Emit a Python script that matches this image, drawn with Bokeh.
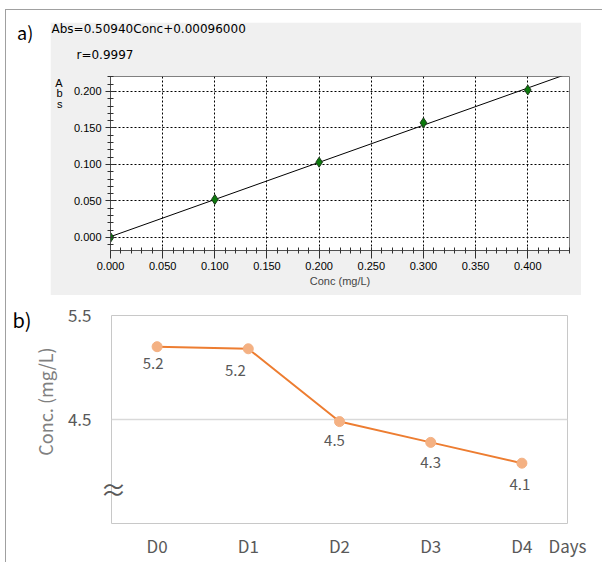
from bokeh.plotting import figure
from bokeh.layouts import column, row
from bokeh.models import (Range1d, SingleIntervalTicker, FixedTicker, LinearAxis, Title,
                          PrintfTickFormatter, Div, Spacer, ColumnDataSource)
from bokeh.core.properties import value
from bokeh.embed import file_html
from bokeh.resources import INLINE

# ---------------- data: panel a (calibration) ----------------
conc_std = [0.0, 0.1, 0.2, 0.3, 0.4]
abs_std = [0.000, 0.052, 0.103, 0.157, 0.202]
slope = 0.50940
intercept = 0.00096
fit_conc = [0.0, 0.44]
eq_text = "Abs=0.50940Conc+0.00096000"
r_text = "r=0.9997"
abs_letters = ["A", "b", "s"]

# ---------------- data: panel b (days) ----------------
days = ["D0", "D1", "D2", "D3", "D4"]
conc_days = [5.20, 5.18, 4.48, 4.28, 4.08]
b_ticks = [4.5, 5.5]
days_label = "Days"
b_ylabel = "Conc. (mg/L)"

# ---------------- panel a ----------------
FA = "DejaVu Sans"
FT = "Liberation Sans"
YA0, YA1 = -0.018, 0.2205
pa = figure(width=531, height=273, x_range=Range1d(0, 0.44), y_range=Range1d(YA0, YA1),
            output_backend="svg", toolbar_location=None,
            min_border_left=60, min_border_right=12, min_border_top=53, min_border_bottom=45,
            border_fill_color="#F0F0F0", background_fill_color="white",
            outline_line_color="#808080", outline_line_width=1)

for ax in (pa.xaxis[0], pa.yaxis[0]):
    ax.ticker = SingleIntervalTicker(interval=0.05, num_minor_ticks=5)
    ax.formatter = PrintfTickFormatter(format="%.3f")
    ax.axis_line_color = "#505050"
    ax.major_tick_line_color = "#303030"
    ax.minor_tick_line_color = "#303030"
    ax.major_label_text_font = FT
    ax.major_label_text_font_size = "11px"
    ax.major_label_text_color = "black"
    ax.minor_tick_in = 3
    ax.minor_tick_out = 3

pa.xaxis.major_tick_in = 3
pa.xaxis.major_tick_out = 8
pa.xaxis.major_label_standoff = 3
pa.xaxis.axis_label = "Conc (mg/L)"
pa.xaxis.axis_label_text_font = FT
pa.xaxis.axis_label_text_font_size = "11px"
pa.xaxis.axis_label_text_font_style = "normal"
pa.xaxis.axis_label_standoff = 2
pa.yaxis.major_tick_in = 5
pa.yaxis.major_tick_out = 5
pa.yaxis.major_label_standoff = 4

pa.grid.grid_line_color = "black"
pa.grid.grid_line_dash = "2 2"
pa.grid.grid_line_width = 1

fit_abs = [slope * c + intercept for c in fit_conc]
pa.line(fit_conc, fit_abs, line_color="black", line_width=1)
pa.scatter(conc_std, abs_std, marker="diamond", size=10,
           fill_color="#0B7A0B", line_color="#1A3A1A", line_width=1)

# stacked "A b s" axis title (extra left axis, outside the value axis)
abs_pos = [0.2116, 0.1973, 0.1830]
abs_axis = LinearAxis(ticker=FixedTicker(ticks=abs_pos),
                      major_label_overrides={p: c for p, c in zip(abs_pos, abs_letters)},
                      axis_line_color=None, major_tick_line_color=None, minor_tick_line_color=None,
                      major_tick_in=0, major_tick_out=0, major_label_standoff=8,
                      major_label_text_font=FT, major_label_text_font_size="11px",
                      major_label_text_color="black")
pa.add_layout(abs_axis, "left")

pa.add_layout(Title(text=r_text, align="left", offset=-34, standoff=26, vertical_align="top",
                    text_font=FA, text_font_size="12px", text_font_style="normal",
                    text_color="black"), "above")
pa.add_layout(Title(text=eq_text, align="left", offset=-59, standoff=-4, vertical_align="middle",
                    text_font=FA, text_font_size="12px", text_font_style="normal",
                    text_color="black"), "above")

GREY = "#A0A0A0"
div_a = Div(text='<div style="position:relative;left:11px;top:13px;font-size:18px;line-height:18px;'
                 'font-family:\'Noto Sans CJK JP\',sans-serif;color:black;">a)</div>',
            width=44, height=285, margin=0)
row_a = row(div_a, column(Spacer(width=531, height=12), pa), Spacer(width=21, height=285))

# ---------------- panel b ----------------
FJ = "Noto Sans CJK JP"
xs = list(range(len(days)))
pb = figure(width=595, height=267, x_range=Range1d(-0.5, len(days) - 0.5), y_range=Range1d(3.5, 5.5),
            output_backend="svg", toolbar_location=None,
            min_border_left=105, min_border_right=34, min_border_top=20, min_border_bottom=39,
            border_fill_color="white", background_fill_color="white",
            outline_line_color="#C8C8C8", outline_line_width=1)

main_y = pb.yaxis[0]
main_x = pb.xaxis[0]
pb.xgrid.grid_line_color = None
main_x.ticker = FixedTicker(ticks=xs + [len(days) - 0.5])
overrides = {x: d for x, d in zip(xs, days)}
overrides[len(days) - 0.5] = days_label
main_x.major_label_overrides = overrides
main_y.ticker = FixedTicker(ticks=b_ticks)
pb.ygrid.ticker = FixedTicker(ticks=b_ticks)
pb.ygrid.grid_line_color = "#D9D9D9"
pb.ygrid.grid_line_width = 1.5

for ax in (main_x, main_y):
    ax.axis_line_color = None
    ax.major_tick_line_color = None
    ax.minor_tick_line_color = None
    ax.major_tick_in = 0
    ax.major_tick_out = 0
    ax.major_label_text_font = FJ
    ax.major_label_text_color = "#595959"
main_x.major_label_text_font_size = "17px"
main_x.major_label_standoff = 9
main_y.major_label_text_font_size = "17px"
main_y.major_label_standoff = 6

def label_axis(pos, text, size, color, standoff, orientation="horizontal"):
    return LinearAxis(ticker=FixedTicker(ticks=pos),
                      major_label_overrides={pos[0]: text},
                      major_label_orientation=orientation,
                      axis_line_color=None, major_tick_line_color=None, minor_tick_line_color=None,
                      major_tick_in=0, major_tick_out=0, major_label_standoff=standoff,
                      major_label_text_font=FJ, major_label_text_font_size=size,
                      major_label_text_color=color)

# axis-break mark sitting on the left frame edge (innermost left axis)
brk_axis = label_axis([3.8365], "≈", "26px", "#595959", -15)
# rotated y title and panel tag (outer left axes)
ylab_axis = label_axis([4.673], b_ylabel, "18px", "#808080", 6, "vertical")
tag_axis = label_axis([5.462], "b)", "20px", "black", -2)
pb.left = [brk_axis, main_y, ylab_axis, tag_axis]

src = ColumnDataSource(dict(x=xs, val=conc_days,
                            lab=["%.1f" % v for v in conc_days],
                            dx=[-4, -13, -5, 0, -2], dy=[17, 22, 19, 20, 21]))
pb.line("x", "val", source=src, line_color="#ED7D31", line_width=2)
pb.scatter("x", "val", source=src, size=10, fill_color="#F4B183", line_color="#F4B183")
pb.text("x", "val", text="lab", source=src, x_offset="dx", y_offset="dy",
        text_align="center", text_baseline="middle",
        text_font=value(FJ), text_font_size="15px", text_color="#595959")

# ---------------- frame lines and assembly ----------------
hline = Div(width=596, height=1, margin=0, styles={"background-color": GREY})
vline = Div(width=1, height=553, margin=0, styles={"background-color": GREY})
content = column(hline, row_a, pb)
root = column(Spacer(width=602, height=9),
              row(Spacer(width=5, height=553), vline, content))

open("out.html", "w").write(file_html(root, INLINE))
